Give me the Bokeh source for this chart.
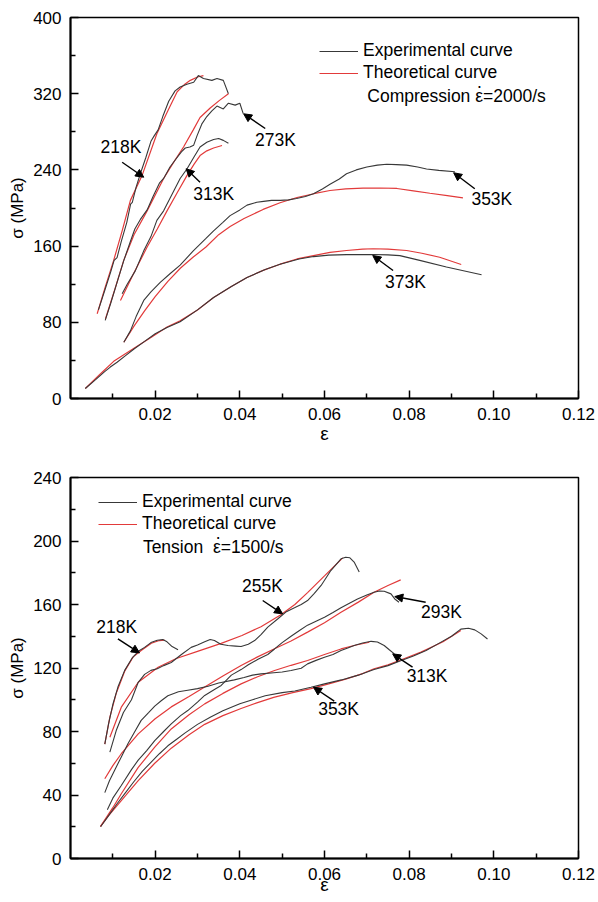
from bokeh.plotting import figure
from bokeh.layouts import column
from bokeh.models import (Range1d, FixedTicker, PrintfTickFormatter, Arrow, NormalHead,
                          Label, Legend, LegendItem)
from bokeh.embed import file_html
from bokeh.resources import INLINE

FONT = "Liberation Sans"
EXP_COLOR = "#383838"
TH_COLOR = "#e23a3a"

# ---------------- axis ticks ----------------
strain_ticks = [0.02, 0.04, 0.06, 0.08, 0.10, 0.12]
strain_minor = [0.01, 0.03, 0.05, 0.07, 0.09, 0.11]
comp_stress_ticks = [0, 80, 160, 240, 320, 400]
comp_stress_minor = [40, 120, 200, 280, 360]
tens_stress_ticks = [0, 40, 80, 120, 160, 200, 240]
tens_stress_minor = [20, 60, 100, 140, 180, 220]

# ---------------- compression, strain rate 2000/s ----------------
c218_exp_e = [0.0066, 0.0082, 0.0095, 0.0103, 0.0110, 0.0120, 0.0133, 0.0142, 0.0146, 0.0155, 0.0165,
              0.0178, 0.0190, 0.0198, 0.0207, 0.0218, 0.0232, 0.0247, 0.0259, 0.0275, 0.0291, 0.0302,
              0.0314, 0.0334, 0.0346, 0.0361, 0.0373]
c218_exp_s = [93, 115, 133, 145, 148, 165, 185, 204, 206, 222, 236, 253, 270, 276, 282, 296, 312, 323,
              327, 330, 332, 339, 336, 334, 336, 334, 320]
c218_th_e = [0.0063, 0.0082, 0.0102, 0.0122, 0.01415, 0.0169, 0.0204, 0.0230, 0.0252, 0.0270, 0.0283,
             0.0300, 0.0314]
c218_th_s = [89, 117, 145, 176, 208, 234, 278, 302, 322, 330, 334, 337.5, 339]

c273_exp_e = [0.0082, 0.0095, 0.0110, 0.0126, 0.0140, 0.0152, 0.0165, 0.0181, 0.0195, 0.0210, 0.0220,
              0.0235, 0.0250, 0.0262, 0.0271, 0.0282, 0.0291, 0.0299, 0.0310, 0.0322, 0.0334, 0.0346,
              0.0361, 0.0373, 0.0389, 0.0400, 0.0408]
c273_exp_s = [82, 100, 122, 145, 163, 178, 188, 198, 212, 226, 231, 243, 252, 259, 263, 264, 266, 276,
              288, 296, 302, 307, 304, 310, 308, 310, 299]
c273_th_e = [0.00825, 0.0105, 0.01257, 0.0150, 0.0181, 0.0220, 0.0245, 0.0267, 0.0290, 0.0306, 0.0330,
             0.0352, 0.0373]
c273_th_s = [83.6, 115, 145, 172, 197, 231, 249, 264, 282, 295, 305, 313, 320]

c313_exp_e = [0.0122, 0.0134, 0.0153, 0.0173, 0.0190, 0.0204, 0.0220, 0.0236, 0.0259, 0.0275, 0.0291,
              0.0306, 0.0322, 0.0338, 0.0350, 0.0361, 0.0373]
c313_exp_s = [110, 120, 134, 155, 170, 187, 197, 211, 231, 241, 253, 264, 269, 272, 273, 271, 268]
c313_th_e = [0.0118, 0.0150, 0.0181, 0.0205, 0.0228, 0.0252, 0.0275, 0.0292, 0.0306, 0.0322, 0.0338,
             0.0358]
c313_th_s = [103, 132, 159, 178, 197, 216, 234, 246, 255, 260, 263, 265.6]

c353_exp_e = [0.0126, 0.01415, 0.0155, 0.0173, 0.0190, 0.0212, 0.0235, 0.0259, 0.0290, 0.0320, 0.0338,
              0.0360, 0.0377, 0.0400, 0.0417, 0.0440, 0.0456, 0.0475, 0.0495, 0.0515, 0.0534, 0.0555,
              0.0574, 0.0595, 0.0613, 0.0635, 0.0652, 0.0675, 0.0700, 0.0725, 0.0747, 0.0770, 0.0794,
              0.0820, 0.0841, 0.0870, 0.0908]
c353_exp_s = [59, 71, 86, 103, 112, 122, 131, 140, 155, 168, 176, 185, 192, 198, 203, 206, 207, 208, 208,
              208.5, 210, 212, 215, 220, 225, 230.5, 236, 240, 243, 245, 246, 245.5, 245, 243, 241,
              239.5, 238]
c353_th_e = [0.0126, 0.0150, 0.0175, 0.0200, 0.0230, 0.0260, 0.0290, 0.0320, 0.0350, 0.0377, 0.0410,
             0.0455, 0.0495, 0.0535, 0.0575, 0.0613, 0.0650, 0.0691, 0.0730, 0.0771, 0.0810, 0.0849,
             0.0890, 0.0927]
c353_th_s = [59, 76, 92, 107, 123, 137, 148.5, 159, 172, 180.5, 189, 198.5, 205.5, 211, 215, 218.4, 220,
             220.8, 221, 220.5, 218, 215.5, 213, 210.7]

c373_exp_e = [0.0035, 0.0060, 0.0080, 0.0094, 0.0110, 0.0130, 0.0150, 0.0175, 0.0200, 0.0228, 0.0259,
              0.0300, 0.0338, 0.0380, 0.0417, 0.0460, 0.0495, 0.0540, 0.0574, 0.0610, 0.0652, 0.0690,
              0.0715, 0.0750, 0.0778, 0.0825, 0.0888, 0.0971]
c373_exp_s = [10.5, 20, 28, 33, 38, 45, 52, 60, 68, 74.5, 80.5, 93, 106, 117.5, 127, 135.5, 141, 146.5,
              149, 150.5, 151, 151, 151.2, 150.8, 150, 145, 138, 130]
c373_th_e = [0.0035, 0.0071, 0.0102, 0.0149, 0.0190, 0.0228, 0.0259, 0.0300, 0.0338, 0.0380, 0.0417,
             0.0455, 0.0495, 0.0535, 0.0574, 0.0613, 0.0652, 0.0690, 0.0715, 0.0750, 0.0794, 0.0830,
             0.0872, 0.0923]
c373_th_s = [10.5, 26, 39, 52.5, 64, 75, 81.5, 93, 106, 117.5, 127, 134.5, 141, 146.5, 150, 153.5, 155.4,
             156.8, 157.2, 156.8, 155.4, 152.5, 148.3, 140.7]

# ---------------- tension, strain rate 1500/s ----------------
t218_exp_e = [0.0081, 0.0090, 0.0100, 0.0112, 0.0128, 0.0145, 0.0160, 0.0175, 0.0190, 0.0205, 0.0218,
              0.0228, 0.0240, 0.0254]
t218_exp_s = [72, 85, 97, 108, 118.5, 126, 130.5, 133, 136, 137.5, 138, 136.5, 133.5, 131.5]
t218_th_e = [0.0081, 0.0093, 0.0108, 0.0128, 0.0148, 0.0167, 0.0191, 0.0210, 0.0222]
t218_th_s = [72, 89, 104, 118, 127, 131, 135.6, 137.3, 137.5]

t255_exp_e = [0.0093, 0.0108, 0.0125, 0.0144, 0.0160, 0.0175, 0.0190, 0.0205, 0.0220, 0.0238, 0.0262,
              0.0285, 0.0300, 0.0317, 0.0330, 0.0340, 0.0355, 0.0372, 0.0390, 0.0403, 0.0420, 0.0435,
              0.0450, 0.0466, 0.0490, 0.0510, 0.0529, 0.0545, 0.0560, 0.0576, 0.0592, 0.0615, 0.0639,
              0.0650, 0.0660, 0.0670, 0.0682]
t255_exp_s = [67, 80.6, 92, 100, 111, 116, 118.5, 119.5, 121.5, 123.5, 128.5, 133, 134.5, 136.5, 138,
              137.3, 135, 134.2, 133.8, 133.5, 135, 137.3, 141, 145.7, 151, 155.5, 157.9, 160, 162.5,
              167, 172, 181.4, 188.8, 189.8, 189.4, 186.7, 180.4]
t255_th_e = [0.0093, 0.0120, 0.0160, 0.0207, 0.0250, 0.0300, 0.0356, 0.0405, 0.0450, 0.0497, 0.0530,
             0.0560, 0.0600, 0.0643]
t255_th_s = [76.4, 95.3, 111, 120.5, 126, 130.5, 135.5, 140.5, 146, 153.5, 160, 167.5, 178, 189.4]

t293_exp_e = [0.0087, 0.0100, 0.0120, 0.0144, 0.0160, 0.0180, 0.0199, 0.0220, 0.0238, 0.0260, 0.0277,
              0.0300, 0.0317, 0.0340, 0.0356, 0.0380, 0.0403, 0.0420, 0.0443, 0.0466, 0.0482, 0.0500,
              0.0521, 0.0540, 0.0560, 0.0580, 0.0600, 0.0620, 0.0639, 0.0660, 0.0678, 0.0700, 0.0717,
              0.0730, 0.0741, 0.0757, 0.0766, 0.0776]
t293_exp_s = [30.7, 38, 46, 56, 62, 68, 74.3, 80, 84.8, 90, 93.2, 98.5, 102.7, 106.5, 109, 115.5, 119,
              122, 125.5, 128.5, 132, 136, 140, 143.5, 147, 149.5, 152, 155, 158, 161, 163.5, 166, 167.7,
              168.5, 168.3, 166.7, 163.5, 161.4]
t293_th_e = [0.0081, 0.0100, 0.0120, 0.0160, 0.0200, 0.0238, 0.0280, 0.0317, 0.0360, 0.0403, 0.0442,
             0.0482, 0.0521, 0.0560, 0.0600, 0.0639, 0.0680, 0.0717, 0.0750, 0.0780]
t293_th_s = [50.2, 58.5, 66, 78.5, 88, 95.5, 102, 108, 115, 121.6, 127, 132.1, 137, 142.6, 148.5, 155.1,
             161.5, 167.7, 172, 175.5]

t313_exp_e = [0.0081, 0.0092, 0.0104, 0.0120, 0.0136, 0.0150, 0.0167, 0.0185, 0.0199, 0.0215, 0.0230,
              0.0255, 0.0277, 0.0300, 0.0325, 0.0350, 0.0387, 0.0410, 0.0430, 0.0450, 0.0480, 0.0500,
              0.0521, 0.0545, 0.0560, 0.0580, 0.0600, 0.0620, 0.0639, 0.0655, 0.0670, 0.0690, 0.0710,
              0.0725, 0.0741, 0.0753, 0.0765]
t313_exp_s = [41.5, 49, 55.5, 64, 72.5, 79, 87, 92, 96, 99.5, 102.5, 105, 106, 107, 108.5, 110.5, 112.5,
              114, 115.5, 116.3, 117, 117.5, 118.4, 119.8, 122.6, 124.8, 126.8, 128.5, 131, 132.6, 134.2,
              135.8, 136.8, 136.4, 134.2, 131.5, 128.9]
t313_th_e = [0.0071, 0.0100, 0.0120, 0.0160, 0.0199, 0.0238, 0.0280, 0.0317, 0.0360, 0.0403, 0.0442,
             0.0482, 0.0521, 0.0560, 0.0600, 0.0639, 0.0675, 0.0706]
t313_th_s = [20.2, 32, 40.8, 57.4, 70.1, 81.6, 90.5, 97.4, 104, 110, 114.5, 118.4, 121.7, 124.7, 128.5,
             132, 134.5, 136.2]

t353_exp_e = [0.0071, 0.0090, 0.0110, 0.0130, 0.0150, 0.0170, 0.0190, 0.0210, 0.0230, 0.0250, 0.0270,
              0.0300, 0.0330, 0.0360, 0.0400, 0.0430, 0.0460, 0.0500, 0.0530, 0.0568, 0.0600, 0.0640,
              0.0680, 0.0717, 0.0750, 0.0780, 0.0810, 0.0840, 0.0870, 0.0900, 0.0922, 0.0940, 0.0955,
              0.0970, 0.0985]
t353_exp_s = [20, 27, 34.5, 41.5, 48.5, 55, 60.5, 66, 71, 75, 79, 84.5, 89, 93, 97.5, 100, 102.5, 104.5,
              105.5, 107.9, 110, 112.5, 115.5, 119, 121.5, 124.5, 127.5, 131, 135.5, 140, 144.5, 145,
              144, 141.5, 138.3]
t353_th_e = [0.0071, 0.0090, 0.0120, 0.0160, 0.0199, 0.0238, 0.0280, 0.0317, 0.0360, 0.0403, 0.0440,
             0.0480, 0.0525, 0.0568, 0.0610, 0.0650, 0.0690, 0.0717, 0.0750, 0.0780, 0.0828, 0.0880,
             0.0922]
t353_th_s = [20.2, 27, 36.5, 49, 60, 69.5, 78, 84.5, 90, 94.5, 98, 101.5, 104.5, 107, 110, 113, 116.5,
             119.5, 122, 125, 130, 136.5, 143.6]

# temperature tags: text, text middle-left anchor (strain, stress), arrow tail, arrow tip
comp_tags = [
    ("218K", 0.0071, 264.0, 0.0122, 248, 0.0173, 232.3),
    ("273K", 0.0436, 270.9, 0.0460, 283.5, 0.0409, 298.9),
    ("313K", 0.0290, 214.7, 0.0306, 227, 0.0273, 241.2),
    ("353K", 0.0947, 209.7, 0.0955, 220.2, 0.0905, 237.0),
    ("373K", 0.0743, 122.1, 0.0762, 134.4, 0.0714, 150.1),
]
tens_tags = [
    ("218K", 0.0061, 146.0, 0.0112, 138.4, 0.0163, 129.5),
    ("255K", 0.0405, 171.5, 0.0454, 162.5, 0.0501, 154.1),
    ("293K", 0.0828, 155.1, 0.0839, 161.4, 0.0766, 165.0),
    ("313K", 0.0794, 115.1, 0.0808, 120.5, 0.0761, 128.9),
    ("353K", 0.0585, 94.3, 0.0623, 99.1, 0.0574, 107.9),
]

# loading-condition caption under each legend: text, anchor, and the rate dot over the epsilon
comp_caption = ("Compression ε=2000/s", 0.0701, 317.1, 0.0966, 327.9)
tens_caption = ("Tension\u00a0\u00a0ε=1500/s", 0.0171, 196.1, 0.0349, 202.6)

comp_curves = [(c218_exp_e, c218_exp_s, c218_th_e, c218_th_s),
               (c273_exp_e, c273_exp_s, c273_th_e, c273_th_s),
               (c313_exp_e, c313_exp_s, c313_th_e, c313_th_s),
               (c353_exp_e, c353_exp_s, c353_th_e, c353_th_s),
               (c373_exp_e, c373_exp_s, c373_th_e, c373_th_s)]
tens_curves = [(t218_exp_e, t218_exp_s, t218_th_e, t218_th_s),
               (t255_exp_e, t255_exp_s, t255_th_e, t255_th_s),
               (t293_exp_e, t293_exp_s, t293_th_e, t293_th_s),
               (t313_exp_e, t313_exp_s, t313_th_e, t313_th_s),
               (t353_exp_e, t353_exp_s, t353_th_e, t353_th_s)]


def make_panel(height, y_max, y_ticks, y_minor, curves, tags, caption, legend_loc,
               border_top, border_bottom, border_left, x_label_standoff):
    p = figure(width=598, height=height, x_range=Range1d(0, 0.12), y_range=Range1d(0, y_max),
               output_backend="svg", toolbar_location=None,
               min_border_left=border_left, min_border_right=598 - border_left - 509,
               min_border_top=border_top, min_border_bottom=border_bottom)
    p.xgrid.visible = False
    p.ygrid.visible = False
    p.outline_line_color = "black"
    p.outline_line_width = 1.5
    p.outline_line_alpha = 1.0
    p.background_fill_color = "white"
    p.border_fill_color = "white"

    p.xaxis.ticker = FixedTicker(ticks=strain_ticks, minor_ticks=strain_minor)
    p.xaxis.formatter = PrintfTickFormatter(format="%.2f")
    p.yaxis.ticker = FixedTicker(ticks=y_ticks, minor_ticks=y_minor)
    for ax in (p.xaxis[0], p.yaxis[0]):
        ax.axis_line_width = 2
        ax.axis_line_color = "black"
        ax.major_tick_in = 8
        ax.major_tick_out = 0
        ax.minor_tick_in = 5
        ax.minor_tick_out = 0
        ax.major_tick_line_width = 1.5
        ax.minor_tick_line_width = 1.5
        ax.major_tick_line_color = "black"
        ax.minor_tick_line_color = "black"
        ax.major_label_text_font = FONT
        ax.major_label_text_font_size = "17px"
        ax.major_label_text_color = "black"
        ax.axis_label_text_font = FONT
        ax.axis_label_text_font_style = "normal"
        ax.axis_label_text_color = "black"
    p.xaxis.axis_label = "ε"
    p.xaxis.axis_label_text_font_size = "19px"
    p.xaxis.major_label_standoff = 9
    p.xaxis.axis_label_standoff = x_label_standoff
    p.yaxis.axis_label = "σ (MPa)"
    p.yaxis.axis_label_text_font_size = "17px"
    p.yaxis.major_label_standoff = 9
    p.yaxis.axis_label_standoff = 3

    r_exp = r_th = None
    for exp_e, exp_s, th_e, th_s in curves:
        r_th = p.line(th_e, th_s, line_color=TH_COLOR, line_width=1.2)
        r_exp = p.line(exp_e, exp_s, line_color=EXP_COLOR, line_width=1.1)

    for text, tx, ty, ax0, ay0, ax1, ay1 in tags:
        p.add_layout(Label(x=tx, y=ty, text=text, text_font=FONT, text_font_size="17.5px",
                           text_color="black", text_baseline="middle"))
        p.add_layout(Arrow(end=NormalHead(size=8, fill_color="black", line_color="black",
                                          line_width=1),
                           x_start=ax0, y_start=ay0, x_end=ax1, y_end=ay1,
                           line_color="black", line_width=1.4))

    legend = Legend(items=[LegendItem(label="Experimental curve", renderers=[r_exp]),
                           LegendItem(label="Theoretical curve", renderers=[r_th])],
                    location=legend_loc, padding=0, spacing=1, margin=0,
                    glyph_width=39, glyph_height=20, label_height=20, label_standoff=5,
                    border_line_alpha=0, background_fill_alpha=0,
                    label_text_font=FONT, label_text_font_size="17.5px", label_text_color="black")
    p.add_layout(legend)

    text, cx, cy, dx, dy = caption
    p.add_layout(Label(x=cx, y=cy, text=text, text_font=FONT, text_font_size="17.5px",
                       text_color="black", text_baseline="middle"))
    p.add_layout(Label(x=dx, y=dy, text="·", text_font=FONT, text_font_size="17.5px",
                       text_color="black", text_align="center", text_baseline="middle"))
    return p


top = make_panel(458, 400, comp_stress_ticks, comp_stress_minor, comp_curves, comp_tags,
                 comp_caption, (249, 315), 17, 60, 70, 0)
bottom = make_panel(444, 240, tens_stress_ticks, tens_stress_minor, tens_curves, tens_tags,
                    tens_caption, (28, 324), 19, 44, 69, -9)

layout = column(top, bottom, spacing=0)
open("out.html", "w").write(file_html(layout, INLINE))
